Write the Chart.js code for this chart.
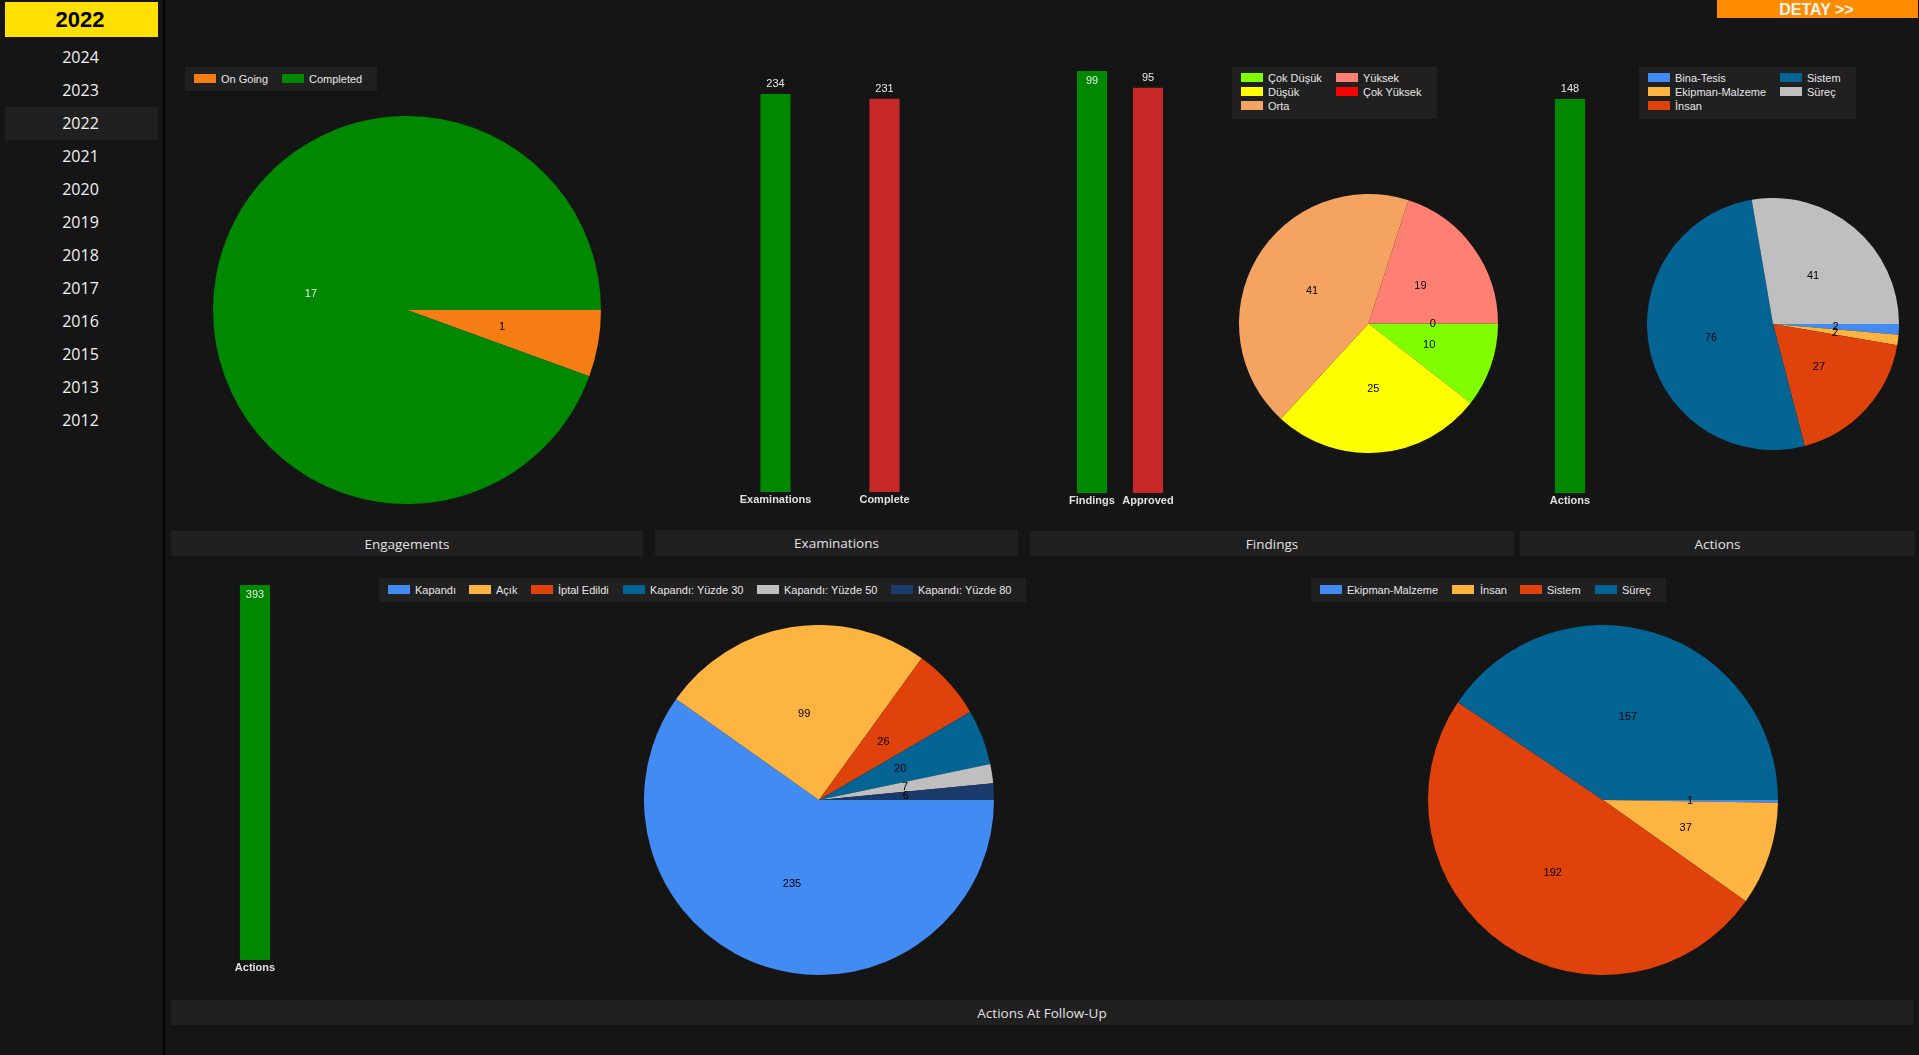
<!DOCTYPE html>
<html lang="tr">
<head>
<meta charset="utf-8">
<title>Dashboard 2022</title>
<script src="https://cdn.jsdelivr.net/npm/chart.js@4"></script>
<style>
html,body{margin:0;padding:0;width:1919px;height:1055px;background:#151515;overflow:hidden}
.abs{position:absolute}
canvas{position:absolute;display:block}
#divider{left:163px;top:0;width:2px;height:1055px;background:#000}
#selected{left:5px;top:2px;width:153px;height:35px;background:#FFE000;color:#000;font:bold 22px "Liberation Sans",sans-serif;text-align:center;line-height:35px;text-indent:-3px}
.year{left:5px;width:153px;height:33px;text-align:center;color:#f0f0f0;font:16px "Open Sans",sans-serif;line-height:33px;text-indent:-2px}
.year.on{background:#202020}
#detay{left:1717px;top:0;width:201px;height:18px;background:#FF8C00;color:#f4f4f4;font:bold 16px "Liberation Sans",sans-serif;text-align:center;line-height:19px;text-indent:-2px}
.title{background:#202020;color:#e2e2e2;font:13.5px "Open Sans",sans-serif;text-align:center;display:flex;align-items:center;justify-content:center}
.legendBox{background:#202020}
.sw{position:absolute;width:22px;height:9px}
.lt{position:absolute;color:#e8e8e8;font:11px "Liberation Sans",sans-serif;line-height:14px;white-space:nowrap}
</style>
</head>
<body>
<div id="root"></div>
<script>
const years = ["2024","2023","2022","2021","2020","2019","2018","2017","2016","2015","2013","2012"];
const selectedYear = "2022";

const engagementLabels = ["On Going","Completed"];
const engagementValues = [1,17];
const engagementColors = ["#F67C14","#008800"];

const examLabels = ["Examinations","Complete"];
const examValues = [234,231];
const findingBarLabels = ["Findings","Approved"];
const findingBarValues = [99,95];
const actionBarLabels = ["Actions"];
const actionBarValues = [148];
const followBarLabels = ["Actions"];
const followBarValues = [393];
const barColors = ["#008800","#C62828"];

const severityLabels = ["Çok Düşük","Düşük","Orta","Yüksek","Çok Yüksek"];
const severityValues = [10,25,41,19,0];
const severityColors = ["#7FFF00","#FFFF00","#F4A460","#FF8072","#FF0000"];

const actionTypeLabels = ["Bina-Tesis","Ekipman-Malzeme","İnsan","Sistem","Süreç"];
const actionTypeValues = [2,2,27,76,41];
const actionTypeColors = ["#418BF2","#FDB441","#DF420A","#046595","#BFBFBF"];

const statusLabels = ["Kapandı","Açık","İptal Edildi","Kapandı: Yüzde 30","Kapandı: Yüzde 50","Kapandı: Yüzde 80"];
const statusValues = [235,99,26,20,7,6];
const statusColors = ["#418BF2","#FDB441","#DF420A","#046595","#BFBFBF","#1A3A6C"];

const followTypeLabels = ["Ekipman-Malzeme","İnsan","Sistem","Süreç"];
const followTypeValues = [1,37,192,157];
const followTypeColors = ["#418BF2","#FDB441","#DF420A","#046595"];

const root = document.getElementById("root");
function el(cls, x, y, w, h, text){
  const d = document.createElement("div");
  d.className = "abs " + cls;
  d.style.left = x + "px"; d.style.top = y + "px";
  if (w != null) d.style.width = w + "px";
  if (h != null) d.style.height = h + "px";
  if (text != null) d.textContent = text;
  root.appendChild(d);
  return d;
}

/* sidebar */
const dv = document.createElement("div"); dv.id = "divider"; dv.className = "abs"; root.appendChild(dv);
const sel = document.createElement("div"); sel.id = "selected"; sel.className = "abs"; sel.textContent = selectedYear; root.appendChild(sel);
years.forEach((y, i) => {
  const d = document.createElement("div");
  d.className = "abs year" + (y === selectedYear ? " on" : "");
  d.style.top = (41 + i * 33) + "px";
  d.textContent = y;
  root.appendChild(d);
});
const det = document.createElement("div"); det.id = "detay"; det.className = "abs"; det.textContent = "DETAY >>"; root.appendChild(det);

/* section titles */
el("title", 171, 531, 472, 25, "Engagements");
el("title", 655, 530, 363, 26, "Examinations");
el("title", 1030, 531, 484, 25, "Findings");
el("title", 1520, 531, 395, 25, "Actions");
el("title", 171, 1000, 1742, 25, "Actions At Follow-Up");

/* legends: [swatch x, swatch y, text x] per label */
function legend(box, labels, colors, spots){
  el("legendBox", box[0], box[1], box[2], box[3]);
  labels.forEach((t, i) => {
    const s = spots[i];
    const sw = el("sw", s[0], s[1], null, null); sw.style.background = colors[i];
    el("lt", s[2], s[1] - 2, null, null, t);
  });
}
legend([185,67,192,24], engagementLabels, engagementColors, [[194,74,221],[282,74,309]]);
legend([1232,67,205,52], severityLabels, severityColors,
  [[1241,73,1268],[1241,87,1268],[1241,101,1268],[1336,73,1363],[1336,87,1363]]);
legend([1639,67,217,52], actionTypeLabels, actionTypeColors,
  [[1648,73,1675],[1648,87,1675],[1648,101,1675],[1780,73,1807],[1780,87,1807]]);
legend([379,578,647,24], statusLabels, statusColors,
  [[388,585,415],[469,585,496],[531,585,558],[623,585,650],[757,585,784],[891,585,918]]);
legend([1311,578,355,24], followTypeLabels, followTypeColors,
  [[1320,585,1347],[1452,585,1480],[1520,585,1547],[1595,585,1622]]);

/* value labels plugin */
const LIGHT = "#e8e8e8", DARK = "#000";
const valueLabels = {
  id: "valueLabels",
  afterDatasetsDraw(chart){
    const ctx = chart.ctx, ds = chart.data.datasets[0], meta = chart.getDatasetMeta(0);
    const isBar = chart.config.type === "bar";
    ctx.save();
    ctx.font = '11px "Liberation Sans", sans-serif';
    ctx.textAlign = "center"; ctx.textBaseline = "middle";
    meta.data.forEach((e, i) => {
      const v = ds.data[i];
      if (isBar){
        const above = e.y >= 24;
        ctx.fillStyle = LIGHT;
        ctx.fillText(String(v), e.x, above ? e.y - 10 : e.y + 10);
      } else {
        const p = e.tooltipPosition();
        ctx.fillStyle = ds.backgroundColor[i] === "#008800" ? LIGHT : DARK;
        ctx.fillText(String(v), p.x - 0.5, p.y + 0.5);
      }
    });
    ctx.restore();
  }
};

function canvas(x, y, w, h){
  const c = document.createElement("canvas");
  c.style.left = x + "px"; c.style.top = y + "px";
  c.style.width = w + "px"; c.style.height = h + "px";
  c.width = w; c.height = h;
  root.appendChild(c);
  return c;
}

function pie(cx, cy, r, labels, values, colors){
  const c = canvas(cx - r, cy - r, 2 * r, 2 * r);
  return new Chart(c, {
    type: "pie",
    data: { labels, datasets: [{ data: values, backgroundColor: colors, borderWidth: 0 }] },
    options: {
      responsive: false, animation: false, rotation: 90,
      plugins: { legend: { display: false }, tooltip: { enabled: false } },
      layout: { padding: 0 }
    },
    plugins: [valueLabels]
  });
}

function bar(left, right, canvasTop, areaTop, areaBottom, labels, values){
  const bottomPad = 24;
  const c = canvas(left, canvasTop, right - left, areaBottom + bottomPad - canvasTop);
  return new Chart(c, {
    type: "bar",
    data: { labels, datasets: [{ data: values, backgroundColor: labels.map((_, i) => barColors[i]), barThickness: 29.5, borderWidth: 0 }] },
    options: {
      responsive: false, animation: false,
      layout: { padding: { top: areaTop - canvasTop, left: 0, right: 0, bottom: 0 } },
      plugins: { legend: { display: false }, tooltip: { enabled: false } },
      scales: {
        x: {
          grid: { display: false, drawTicks: false }, border: { display: false },
          afterFit(s){ s.height = bottomPad; s.paddingLeft = 0; s.paddingRight = 0; },
          ticks: { color: "#e0e0e0", padding: 1, maxRotation: 0, autoSkip: false,
                   font: { family: "Liberation Sans", size: 11, weight: "bold" } }
        },
        y: { display: false, min: 0, max: Math.max(...values) }
      }
    },
    plugins: [valueLabels]
  });
}

pie(407, 310, 194, engagementLabels, engagementValues, engagementColors);
pie(1368.5, 323.5, 129.5, severityLabels, severityValues, severityColors);
pie(1773, 323.5, 126, actionTypeLabels, actionTypeValues, actionTypeColors);
pie(818.5, 799.5, 175, statusLabels, statusValues, statusColors);
pie(1603, 799.5, 175, followTypeLabels, followTypeValues, followTypeColors);

bar(721, 939, 60, 94, 492, examLabels, examValues);
bar(1064, 1176, 60, 71, 493, findingBarLabels, findingBarValues);
bar(1530, 1610, 60, 99, 493, actionBarLabels, actionBarValues);
bar(215, 295, 574, 585, 960, followBarLabels, followBarValues);
</script>
</body>
</html>
